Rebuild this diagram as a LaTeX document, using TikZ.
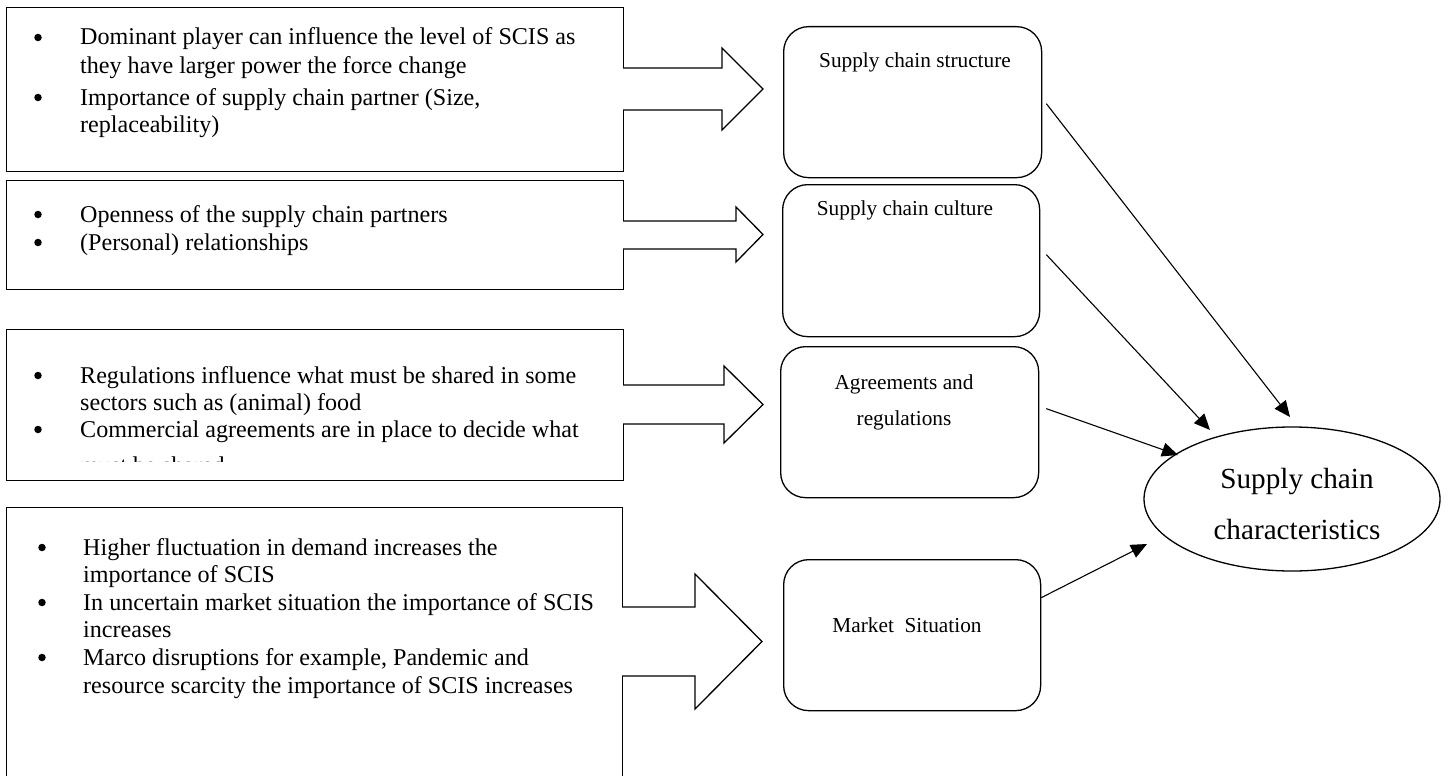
\documentclass[tikz,border=0pt]{standalone}
\usepackage{fontspec}
\setmainfont{Liberation Serif}
\usetikzlibrary{arrows.meta,calc,shapes.geometric}

\newcommand\bodyfont{\fontsize{24.1}{29}\selectfont}
\newcommand\tagfont{\fontsize{21.3}{26}\selectfont}
\newcommand\hubfont{\fontsize{29.2}{35}\selectfont}

% block arrow leaving a box: start x, stem top, stem bottom, head x, head top, head bottom, tip x
\newcommand\blockarrow[7]{%
  \fill[white] (#1-1.5,#2) -- (#4,#2) -- (#4,#5) -- (#7,{(#5+#6)/2}) -- (#4,#6) -- (#4,#3) -- (#1-1.5,#3) -- cycle;
  \draw[frame] (#1,#2) -- (#4,#2) -- (#4,#5) -- (#7,{(#5+#6)/2}) -- (#4,#6) -- (#4,#3) -- (#1,#3);}

\begin{document}
\begin{tikzpicture}[x=1pt,y=-1pt,
  frame/.style={draw=black, line width=1.3pt, line join=miter},
  listbox/.style={frame, rectangle, anchor=north west, inner sep=0pt, fill=white},
  tagbox/.style={draw=black, line width=1.3pt, rectangle, rounded corners=25pt, anchor=north west, inner sep=0pt, fill=white},
  item/.style={anchor=base west, inner sep=0pt, font=\bodyfont},
  dot/.style={circle, fill=black, inner sep=0pt, minimum size=7.5pt, yshift=7.5pt},
  tag/.style={anchor=base, inner sep=0pt, font=\tagfont},
  hub/.style={anchor=base, inner sep=0pt, font=\hubfont},
  conn/.style={draw=black, line width=1.1pt, -{Triangle[length=16pt,width=14pt]}}]

\useasboundingbox (0,0) rectangle (1453,776);
\clip (0,0) rectangle (1453,776);

% ---------- left-hand boxes with bullet lists ----------
\node[listbox, minimum width=617pt, minimum height=164pt] (b1) at (6,7) {};
\node[listbox, minimum width=617pt, minimum height=109pt] (b2) at (6,180) {};
\node[listbox, minimum width=617pt, minimum height=151pt] (b3) at (6,329) {};
\node[listbox, minimum width=616pt, minimum height=300pt] (b4) at (6,507) {};

% box 1
\node[dot] (d11) at (38,45) {};
\node[item] (t11) at (80,45) {Dominant player can influence the level of SCIS as};
\node[item] (t12) at (80,74) {they have larger power the force change};
\node[dot] (d12) at (38,105) {};
\node[item] (t13) at (80,105) {Importance of supply chain partner (Size,};
\node[item] (t14) at (80,132) {replaceability)};

% box 2
\node[dot] (d21) at (38,222) {};
\node[item] (t21) at (80,222) {Openness of the supply chain partners};
\node[dot] (d22) at (38,250) {};
\node[item] (t22) at (80,250) {(Personal) relationships};

% box 3
\node[dot] (d31) at (38,383) {};
\node[item] (t31) at (80,383) {Regulations influence what must be shared in some};
\node[item] (t32) at (80,410) {sectors such as (animal) food};
\node[dot] (d32) at (38,437) {};
\node[item] (t33) at (80,437) {Commercial agreements are in place to decide what};
\begin{scope}
  \clip (10,446) rectangle (615,461);
  \node[item] (t34) at (80,473) {must be shared};
\end{scope}

% box 4
\node[dot] (d41) at (42,555) {};
\node[item] (t41) at (83,555) {Higher fluctuation in demand increases the};
\node[item] (t42) at (83,582) {importance of SCIS};
\node[dot] (d42) at (42,610) {};
\node[item] (t43) at (83,610) {In uncertain market situation the importance of SCIS};
\node[item] (t44) at (83,637) {increases};
\node[dot] (d43) at (42,665) {};
\node[item] (t45) at (83,665) {Marco disruptions for example, Pandemic and};
\node[item] (t46) at (83,693) {resource scarcity the importance of SCIS increases};

% ---------- block arrows ----------
\blockarrow{623}{68}{110}{722}{48}{130}{763}
\blockarrow{623}{221}{249}{736}{207}{262}{763}
\blockarrow{623}{385}{424}{724}{366}{443}{763}
\blockarrow{622}{607}{676}{695}{574}{709}{762}

% ---------- rounded factor boxes ----------
\node[tagbox, minimum width=258pt, minimum height=151pt] (r1) at (783,26) {};
\node[tagbox, minimum width=257pt, minimum height=152pt] (r2) at (782,184) {};
\node[tagbox, minimum width=258pt, minimum height=151pt] (r3) at (780,346) {};
\node[tagbox, minimum width=257pt, minimum height=151pt] (r4) at (783,559) {};

\node[tag] (l1) at (915,67) {Supply chain structure};
\node[tag] (l2) at (905,215) {Supply chain culture};
\node[tag] (l3a) at (904,389) {Agreements and};
\node[tag] (l3b) at (904,425) {regulations};
\node[tag] (l4) at (907,632) {Market~ Situation};

% ---------- central ellipse ----------
\node[draw=black, line width=1.3pt, ellipse, minimum width=296pt, minimum height=144pt, inner sep=0pt] (sc) at (1292,499) {};
\node[hub] (h1) at (1297,488) {Supply chain};
\node[hub] (h2) at (1297,539) {characteristics};

% ---------- influence arrows ----------
\draw[conn] ($(r1.east)+(4,1.5)$) -- ($(sc.center)+(-2,-82)$);
\draw[conn] ($(r2.east)+(6,-6)$) -- ($(sc.center)+(-82,-69)$);
\draw[conn] ($(r3.east)+(7,-13.5)$) -- ($(sc.center)+(-114,-44)$);
\draw[conn] ($(r4.east)+(0,-37.5)$) -- ($(sc.center)+(-145,45)$);

\end{tikzpicture}
\end{document}
